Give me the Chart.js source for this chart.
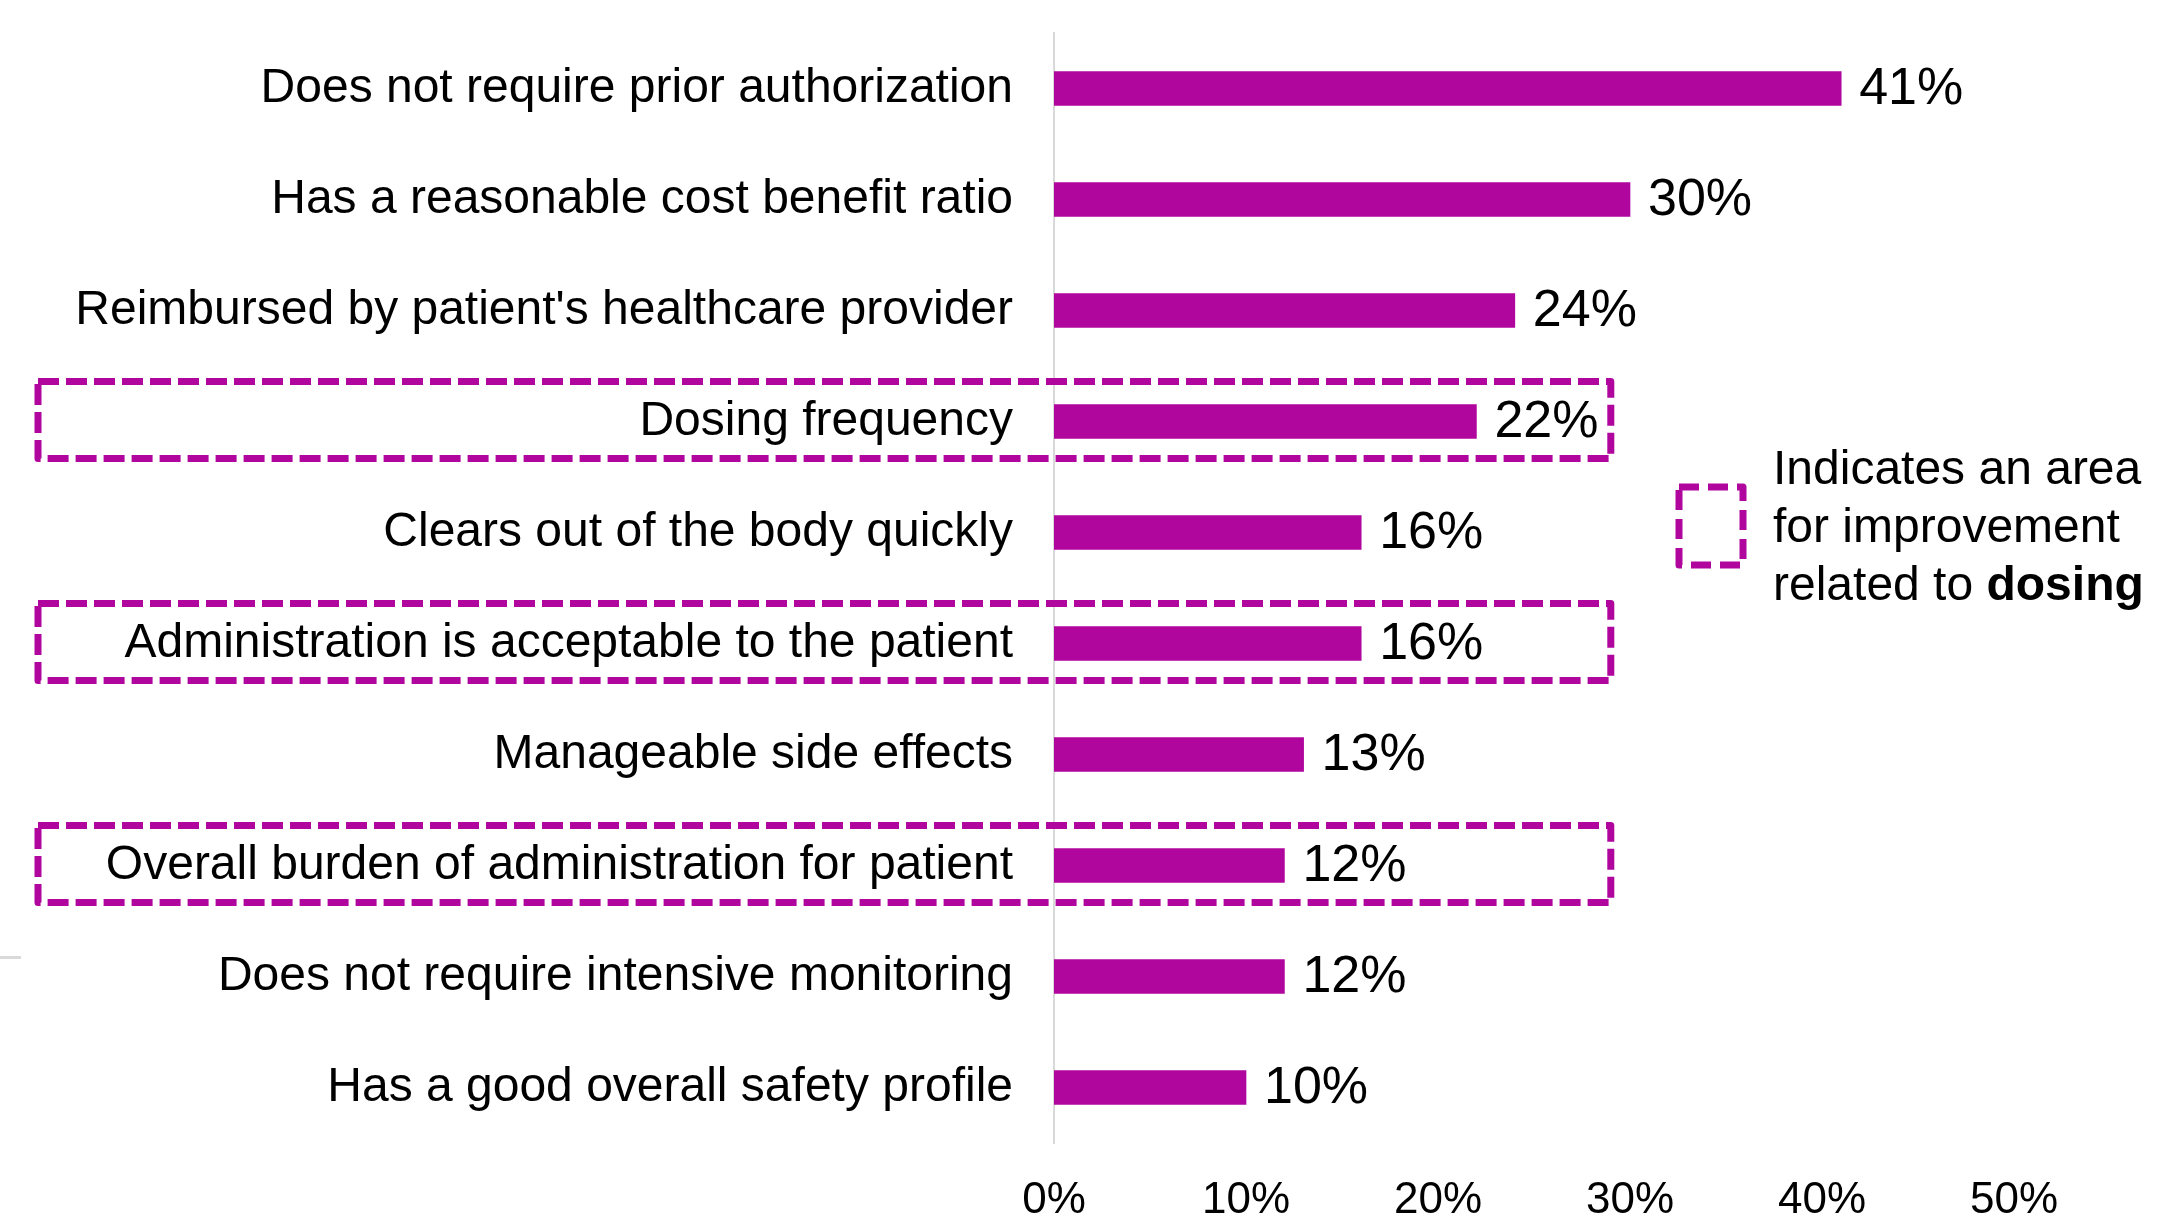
<!DOCTYPE html>
<html>
<head>
<meta charset="utf-8">
<script src="https://cdn.jsdelivr.net/npm/chart.js@4"></script>
<style>
  html, body { margin: 0; padding: 0; background: #fff; }
  #wrap { width: 2182px; height: 1228px; position: relative; }
</style>
</head>
<body>
<div id="wrap"><canvas id="bars"></canvas></div>
<script>
var categories = [
  'Does not require prior authorization',
  'Has a reasonable cost benefit ratio',
  "Reimbursed by patient's healthcare provider",
  'Dosing frequency',
  'Clears out of the body quickly',
  'Administration is acceptable to the patient',
  'Manageable side effects',
  'Overall burden of administration for patient',
  'Does not require intensive monitoring',
  'Has a good overall safety profile'
];
var shares = [41, 30, 24, 22, 16, 16, 13, 12, 12, 10];
var dosingRows = [
  'Dosing frequency',
  'Administration is acceptable to the patient',
  'Overall burden of administration for patient'
];
var xTicks = [0, 10, 20, 30, 40, 50];
var legendLines = ['Indicates an area', 'for improvement', 'related to '];
var legendBold = 'dosing';

var purple = '#B0069E';
var fontFam = "'Liberation Sans', Arial, sans-serif";

// value labels at the end of each bar
var valueLabels = {
  id: 'valueLabels',
  afterDatasetsDraw: function(chart) {
    var ctx = chart.ctx;
    var meta = chart.getDatasetMeta(0);
    ctx.save();
    ctx.fillStyle = '#000';
    ctx.font = '52px ' + fontFam;
    ctx.textAlign = 'left';
    ctx.textBaseline = 'middle';
    meta.data.forEach(function(bar, i) {
      ctx.fillText(shares[i] + '%', bar.x + 18, bar.y + 1);
    });
    ctx.restore();
  }
};

// dashed boxes round the dosing rows, plus the side note
var dosingBoxes = {
  id: 'dosingBoxes',
  afterDraw: function(chart) {
    var ctx = chart.ctx;
    var y = chart.scales.y, x = chart.scales.x;
    ctx.save();
    ctx.strokeStyle = purple;
    ctx.lineWidth = 7;
    ctx.lineJoin = 'round';
    ctx.setLineDash([21, 7]);
    var right = x.getPixelForValue(29);
    dosingRows.forEach(function(name) {
      var cy = y.getPixelForValue(categories.indexOf(name));
      ctx.strokeRect(38, cy - 40, right - 38, 77);
    });

    // legend square
    ctx.setLineDash([20, 9]);
    ctx.strokeRect(1679, 487, 64, 78);

    // legend text
    ctx.setLineDash([]);
    ctx.fillStyle = '#000';
    ctx.textAlign = 'left';
    ctx.textBaseline = 'middle';
    ctx.font = '48px ' + fontFam;
    ctx.fillText(legendLines[0], 1773, 471);
    ctx.fillText(legendLines[1], 1773, 529);
    ctx.fillText(legendLines[2], 1773, 587);
    var w = ctx.measureText(legendLines[2]).width;
    ctx.font = 'bold 48px ' + fontFam;
    ctx.fillText(legendBold, 1773 + w, 587);

    // small leftover rule at the left edge
    ctx.fillStyle = '#d9d9d9';
    ctx.fillRect(0, 956, 21, 3);
    ctx.restore();
  }
};

var ctx = document.getElementById('bars').getContext('2d');
var chart = new Chart(ctx, {
  type: 'bar',
  data: {
    labels: categories,
    datasets: [{
      label: 'share',
      data: shares,
      backgroundColor: purple,
      borderWidth: 0,
      barThickness: 34
    }]
  },
  options: {
    indexAxis: 'y',
    responsive: true,
    maintainAspectRatio: false,
    animation: false,
    layout: { padding: { top: 33, right: 168, bottom: 0, left: 0 } },
    plugins: {
      legend: { display: false },
      tooltip: { enabled: false }
    },
    scales: {
      x: {
        min: 0,
        max: 50,
        afterBuildTicks: function(scale) {
          scale.ticks = xTicks.map(function(v) { return { value: v }; });
        },
        afterFit: function(scale) {
          scale.height = 85;
          scale.paddingLeft = 0;
          scale.paddingRight = 0;
        },
        grid: { display: false, drawTicks: false },
        border: { display: false },
        ticks: {
          padding: 31,
          color: '#000',
          font: { family: fontFam, size: 44 },
          callback: function(v) { return v + '%'; }
        }
      },
      y: {
        afterFit: function(scale) {
          scale.width = 1054;
          scale.paddingTop = 0;
          scale.paddingBottom = 0;
        },
        grid: { display: false, drawTicks: false },
        border: { display: true, color: '#d9d9d9', width: 2 },
        ticks: {
          padding: 41,
          color: '#000',
          font: { family: fontFam, size: 48 }
        }
      }
    }
  },
  plugins: [valueLabels, dosingBoxes]
});
</script>
</body>
</html>
